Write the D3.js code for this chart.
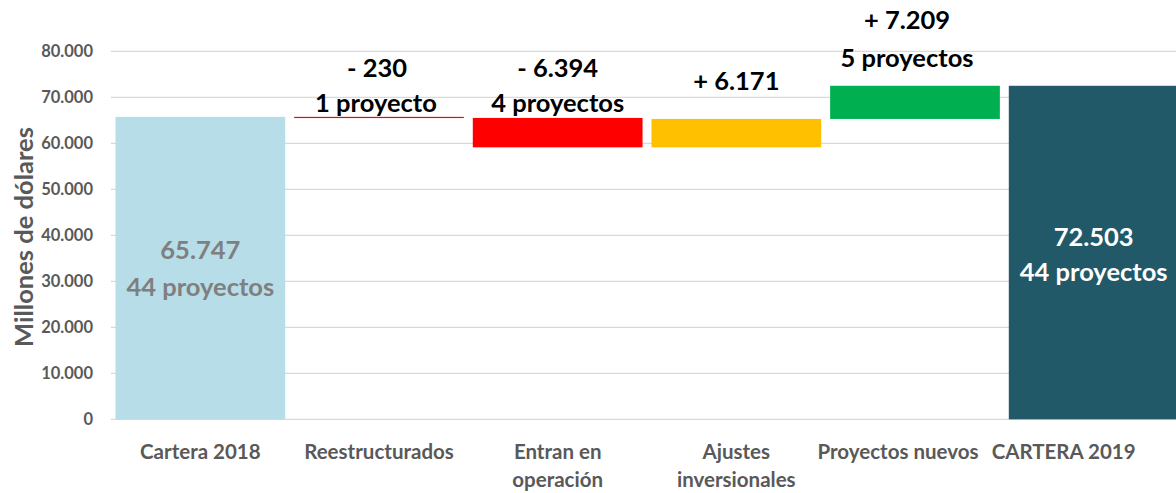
<!DOCTYPE html>
<html><head><meta charset="utf-8">
<script src="https://cdn.jsdelivr.net/npm/d3@7"></script>
<style>html,body{margin:0;padding:0;background:#fff;overflow:hidden}</style>
</head><body><svg id="c" width="1176" height="493"></svg>
<script>
const categories = ["Cartera 2018","Reestructurados","Entran en operación","Ajustes inversionales","Proyectos nuevos","CARTERA 2019"];
const catLines = [["Cartera 2018"],["Reestructurados"],["Entran en","operación"],["Ajustes","inversionales"],["Proyectos nuevos"],["CARTERA 2019"]];
const deltas = [65747, -230, -6394, 6171, 7209, 72503];
const kinds = ["total","delta","delta","delta","delta","total"];
const colors = ["#b7dde8","#ff0000","#ff0000","#ffc000","#00b050","#215968"];
const valueLabels = [["65.747","44 proyectos"],["- 230","1 proyecto"],["- 6.394","4 proyectos"],["+ 6.171"],["+ 7.209","5 proyectos"],["72.503","44 proyectos"]];
const yTicks = [0,10000,20000,30000,40000,50000,60000,70000,80000];
const yTickLabels = ["0","10.000","20.000","30.000","40.000","50.000","60.000","70.000","80.000"];

(function(){
const svg = d3.select("#c");
const F = "Lato, 'Open Sans', sans-serif";
const mLeft = 111, mRight = 1183, mTop = 51.3, mBottom = 419.3;
const x = d3.scaleBand().domain(categories).range([mLeft, mRight]).paddingInner(0.05).paddingOuter(0.025);
const y = d3.scaleLinear().domain([0,80000]).range([mBottom, mTop]);

svg.append("g").selectAll("line").data(yTicks).join("line")
  .attr("x1", mLeft).attr("x2", 1176).attr("y1", d=>y(d)).attr("y2", d=>y(d))
  .attr("stroke","#d9d9d9").attr("stroke-width",1.3);

svg.append("g").selectAll("text").data(yTicks).join("text")
  .attr("x", 93).attr("y", d=>y(d)).attr("dy","0.36em").attr("text-anchor","end")
  .attr("font-family",F).attr("font-weight","bold").attr("font-size",16.5).attr("fill","#595959")
  .text((d,i)=>yTickLabels[i]);

svg.append("text").attr("transform","translate(33,237) rotate(-90)").attr("text-anchor","middle")
  .attr("font-family",F).attr("font-weight","bold").attr("font-size",25.5).attr("fill","#595959")
  .text("Millones de dólares");

let run = 0;
const bars = categories.map((c,i)=>{
  let y0, y1;
  if (kinds[i]==="total") { y0 = 0; y1 = deltas[i]; run = deltas[i]; }
  else { y0 = run; y1 = run + deltas[i]; run = y1; }
  return {c, lo: Math.min(y0,y1), hi: Math.max(y0,y1), color: colors[i], i};
});
svg.append("g").selectAll("rect").data(bars).join("rect")
  .attr("x", d=>x(d.c)).attr("width", x.bandwidth())
  .attr("y", d=>y(d.hi)).attr("height", d=>Math.max(1.2, y(d.lo)-y(d.hi)))
  .attr("fill", d=>d.color);

const lblShift = [0,0,0,0,-17,-30];
categories.forEach((c,i)=>{
  const t = svg.append("text").attr("text-anchor","middle")
    .attr("font-family",F).attr("font-weight","bold").attr("font-size",20.5).attr("fill","#595959");
  catLines[i].forEach((ln,j)=>{
    t.append("tspan").attr("x", x(c)+x.bandwidth()/2+lblShift[i]).attr("y", 459 + j*28).text(ln);
  });
});

const vlPos = [
  {dx:[0,0], ys:[259, 296], fill:"#7f7f7f"},
  {dx:[-2,-3], ys:[77, 112], fill:"#000"},
  {dx:[0,0], ys:[77, 112], fill:"#000"},
  {dx:[0,0], ys:[90], fill:"#000"},
  {dx:[-8,-8], ys:[29, 67], fill:"#000"},
  {dx:[0,0], ys:[246, 281], fill:"#ffffff"}
];
categories.forEach((c,i)=>{
  valueLabels[i].forEach((s,j)=>{
    svg.append("text").attr("text-anchor","middle")
      .attr("x", x(c)+x.bandwidth()/2 + vlPos[i].dx[j])
      .attr("y", vlPos[i].ys[j])
      .attr("font-family",F).attr("font-weight","bold").attr("font-size",25.5).attr("fill",vlPos[i].fill)
      .text(s);
  });
});
})();
</script></body></html>
